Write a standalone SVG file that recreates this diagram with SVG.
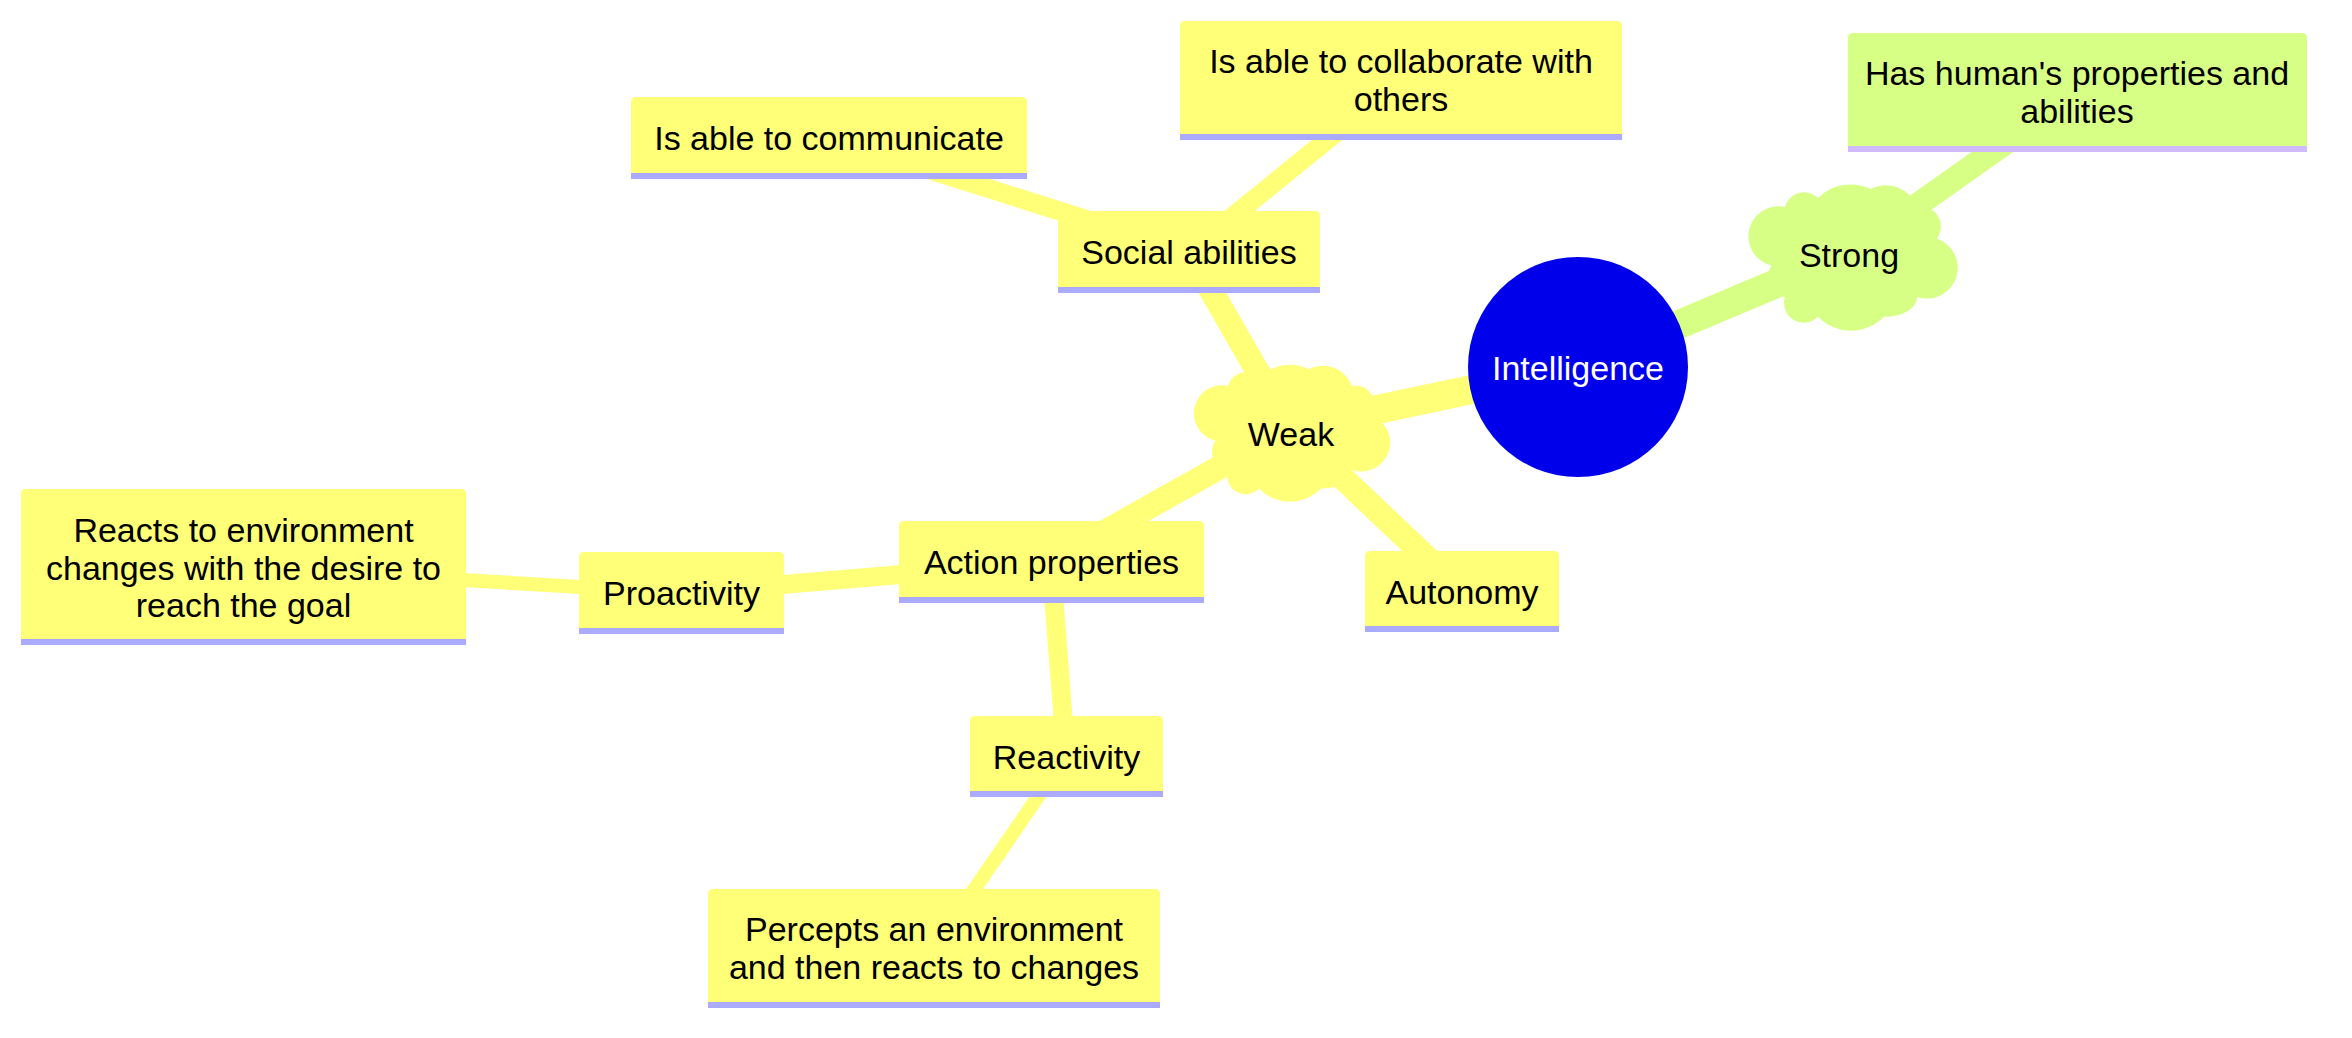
<svg xmlns="http://www.w3.org/2000/svg" width="2352" height="1038" viewBox="0 0 2352 1038">
<style>
.bg{fill:#ffffff}
.n1{fill:#ffff78}
.s1{fill:#aaaaff}
.n2{fill:#d7ff86}
.s2{fill:#d0b9ff}
.root{fill:#0000ea}
.t{font-family:"Liberation Sans",Arial,sans-serif;font-size:34px;text-anchor:middle;fill:#000000}
.tw{fill:#ffffff}
.e{fill:none;stroke-linecap:butt}
.ey{stroke:#ffff78}
.eg{stroke:#d7ff86}
.d0{stroke-width:29}
.d1{stroke-width:24}
.d2{stroke-width:19}
.d3{stroke-width:14}
</style>
<rect class="bg" x="0" y="0" width="2352" height="1038"/>
<g id="edges">
  <line class="e ey d0" x1="1578" y1="367" x2="1290" y2="428"/>
  <line class="e eg d0" x1="1578" y1="367" x2="1851" y2="252"/>
  <line class="e eg d1" x1="1851" y1="252" x2="2077" y2="92"/>
  <line class="e ey d1" x1="1290" y1="428" x2="1189" y2="252"/>
  <line class="e ey d1" x1="1290" y1="428" x2="1051" y2="562"/>
  <line class="e ey d1" x1="1290" y1="428" x2="1462" y2="591"/>
  <line class="e ey d2" x1="1189" y1="252" x2="829" y2="138"/>
  <line class="e ey d2" x1="1189" y1="252" x2="1401" y2="80"/>
  <line class="e ey d2" x1="1051" y1="562" x2="681" y2="593"/>
  <line class="e ey d2" x1="1051" y1="562" x2="1066" y2="756"/>
  <line class="e ey d3" x1="681" y1="593" x2="243" y2="567"/>
  <line class="e ey d3" x1="1066" y1="756" x2="934" y2="948"/>
</g>
<g id="node-strong-desc">
  <path class="n2" d="M1848 152 V38 Q1848 33 1853 33 H2302 Q2307 33 2307 38 V152 Z"/>
  <rect class="s2" x="1848" y="146" width="459" height="6"/>
  <text class="t" x="2077" y="85">Has human's properties and</text>
  <text class="t" x="2077" y="123">abilities</text>
</g>
<g id="node-collaborate">
  <path class="n1" d="M1180 140 V26 Q1180 21 1185 21 H1617 Q1622 21 1622 26 V140 Z"/>
  <rect class="s1" x="1180" y="134" width="442" height="6"/>
  <text class="t" x="1401" y="73">Is able to collaborate with</text>
  <text class="t" x="1401" y="111">others</text>
</g>
<g id="node-communicate">
  <path class="n1" d="M631 179 V102 Q631 97 636 97 H1022 Q1027 97 1027 102 V179 Z"/>
  <rect class="s1" x="631" y="173" width="396" height="6"/>
  <text class="t" x="829" y="150">Is able to communicate</text>
</g>
<g id="node-social">
  <path class="n1" d="M1058 293 V216 Q1058 211 1063 211 H1315 Q1320 211 1320 216 V293 Z"/>
  <rect class="s1" x="1058" y="287" width="262" height="6"/>
  <text class="t" x="1189" y="264">Social abilities</text>
</g>
<g id="node-action">
  <path class="n1" d="M899 603 V526 Q899 521 904 521 H1199 Q1204 521 1204 526 V603 Z"/>
  <rect class="s1" x="899" y="597" width="305" height="6"/>
  <text class="t" x="1051.5" y="574">Action properties</text>
</g>
<g id="node-proactivity">
  <path class="n1" d="M579 634 V557 Q579 552 584 552 H779 Q784 552 784 557 V634 Z"/>
  <rect class="s1" x="579" y="628" width="205" height="6"/>
  <text class="t" x="681.5" y="605">Proactivity</text>
</g>
<g id="node-reacts">
  <path class="n1" d="M21 645 V494 Q21 489 26 489 H461 Q466 489 466 494 V645 Z"/>
  <rect class="s1" x="21" y="639" width="445" height="6"/>
  <text class="t" x="243.5" y="542">Reacts to environment</text>
  <text class="t" x="243.5" y="579.5">changes with the desire to</text>
  <text class="t" x="243.5" y="617">reach the goal</text>
</g>
<g id="node-reactivity">
  <path class="n1" d="M970 797 V721 Q970 716 975 716 H1158 Q1163 716 1163 721 V797 Z"/>
  <rect class="s1" x="970" y="791" width="193" height="6"/>
  <text class="t" x="1066.5" y="769">Reactivity</text>
</g>
<g id="node-percepts">
  <path class="n1" d="M708 1008 V894 Q708 889 713 889 H1155 Q1160 889 1160 894 V1008 Z"/>
  <rect class="s1" x="708" y="1002" width="452" height="6"/>
  <text class="t" x="934" y="941">Percepts an environment</text>
  <text class="t" x="934" y="979">and then reacts to changes</text>
</g>
<g id="node-autonomy">
  <path class="n1" d="M1365 632 V556 Q1365 551 1370 551 H1554 Q1559 551 1559 556 V632 Z"/>
  <rect class="s1" x="1365" y="626" width="194" height="6"/>
  <text class="t" x="1462" y="604">Autonomy</text>
</g>
<g id="node-weak">
  <path class="n1" d="M1228 386 a18.6,18.6 0 0,1 31,-8.4 a43.4,43.4 1 0,1 49.6,-8.4 a31,31 1 0,1 43.4,16.8 a18.6,18.6 1 0,1 18.6,29.4 a24.8,24.8 1 0,1 -18.6,54.6 a31,18.6 1 0,1 -31,18.6 a43.4,43.4 1 0,1 -62,0 a18.6,18.6 1 0,1 -31,-18.6 a18.6,18.6 1 0,1 -12.4,-29.4 a24.8,24.8 1 0,1 12.4,-54.6 Z"/>
  <text class="t" x="1291" y="446">Weak</text>
</g>
<g id="node-strong">
  <path class="n2" d="M1785 207 a19.8,19.8 0 0,1 33,-9 a46.2,46.2 1 0,1 52.8,-9 a33,33 1 0,1 46.2,18 a19.8,19.8 1 0,1 19.8,31.5 a26.4,26.4 1 0,1 -19.8,58.5 a33,19.8 1 0,1 -33,19.8 a46.2,46.2 1 0,1 -66,0 a19.8,19.8 1 0,1 -33,-19.8 a19.8,19.8 1 0,1 -13.2,-31.5 a26.4,26.4 1 0,1 13.2,-58.5 Z"/>
  <text class="t" x="1849" y="267">Strong</text>
</g>
<g id="node-root">
  <circle class="root" cx="1578" cy="367" r="110"/>
  <text class="t tw" x="1578" y="380">Intelligence</text>
</g>
</svg>
